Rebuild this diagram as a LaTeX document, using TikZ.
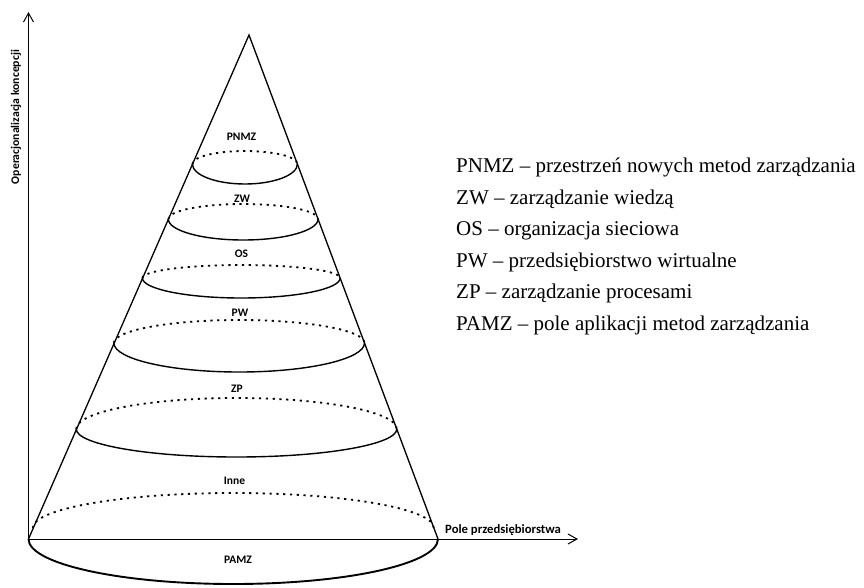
\documentclass[tikz,border=0pt]{standalone}
\usepackage{fontspec}
\setmainfont{Liberation Serif}
\newfontfamily\calfont{Carlito}
\usetikzlibrary{arrows.meta}
\tikzset{
  coneline/.style={line width=1.3pt, black},
  solidarc/.style={line width=1.4pt, black},
  dotarc/.style={line width=1.8pt, black, dash pattern=on 2.2pt off 4.6pt},
  axisline/.style={line width=1pt, black, -{Straight Barb[length=9pt,width=10pt,line width=1pt]}},
  conelabel/.style={font=\calfont\bfseries\fontsize{11.5}{13}\selectfont, inner sep=0pt},
  legendtext/.style={font=\fontsize{21}{25}\selectfont, anchor=base west, inner sep=0pt},
}
\begin{document}
\begin{tikzpicture}[x=1pt,y=-1pt]
\useasboundingbox (0,0) rectangle (864,587);
% key points
\coordinate (apex) at (249,35);
\coordinate (O) at (28.5,539);
\coordinate (bl) at (28.5,539);
\coordinate (br) at (438,539);
\coordinate (ytop) at (28.5,12);
\coordinate (xend) at (578,539);
% axes
\draw[axisline] (O) -- (ytop);
\draw[axisline] (O) -- (xend);
% cone generators
\draw[coneline] (bl) -- (apex) -- (br);
% base half ellipse
\draw[line width=1.9pt] (bl) arc[start angle=180,end angle=360,x radius=204.75pt,y radius=45pt];
% levels: left x, y, rx, top h, bottom h
\foreach \lx/\ly/\rx/\ht/\hb in {192.4/164/52.5/13/20, 168.3/219/74.9/15/21, 142.4/278/98.9/13/20, 113.9/343/125.3/23/29, 76.2/429/160.3/31/28}{
  \draw[dotarc] (\lx,\ly) arc[start angle=180,end angle=0,x radius=\rx pt,y radius=\ht pt];
  \draw[solidarc] (\lx,\ly) arc[start angle=180,end angle=360,x radius=\rx pt,y radius=\hb pt];
}
\draw[dotarc] (32.8,528) arc[start angle=180,end angle=0,x radius=200.5pt,y radius=35pt];
% cone labels
\node[conelabel] (lPNMZ) at (241.5,137) {PNMZ};
\node[conelabel] (lZW) at (242,199) {ZW};
\node[conelabel] (lOS) at (241.5,254) {OS};
\node[conelabel] (lPW) at (240,313) {PW};
\node[conelabel] (lZP) at (237,389) {ZP};
\node[conelabel] (lInne) at (234.5,481) {Inne};
\node[conelabel] (lPAMZ) at (238,560) {PAMZ};
% axis labels
\node[font=\calfont\bfseries\fontsize{12.7}{14}\selectfont, anchor=base west, inner sep=0pt] (xlab) at (445,533) {Pole przedsiębiorstwa};
\node[font=\calfont\bfseries\fontsize{11.7}{13}\selectfont, rotate=90, inner sep=0pt] (ylab) at (16,117) {Operacjonalizacja koncepcji};
% legend
\node[legendtext] (g1) at (456,172) {PNMZ – przestrzeń nowych metod zarządzania};
\node[legendtext] (g2) at (456,204) {ZW – zarządzanie wiedzą};
\node[legendtext] (g3) at (456,235) {OS – organizacja sieciowa};
\node[legendtext] (g4) at (456,267) {PW – przedsiębiorstwo wirtualne};
\node[legendtext] (g5) at (456,298) {ZP – zarządzanie procesami};
\node[legendtext] (g6) at (456,330) {PAMZ – pole aplikacji metod zarządzania};
\end{tikzpicture}
\end{document}
